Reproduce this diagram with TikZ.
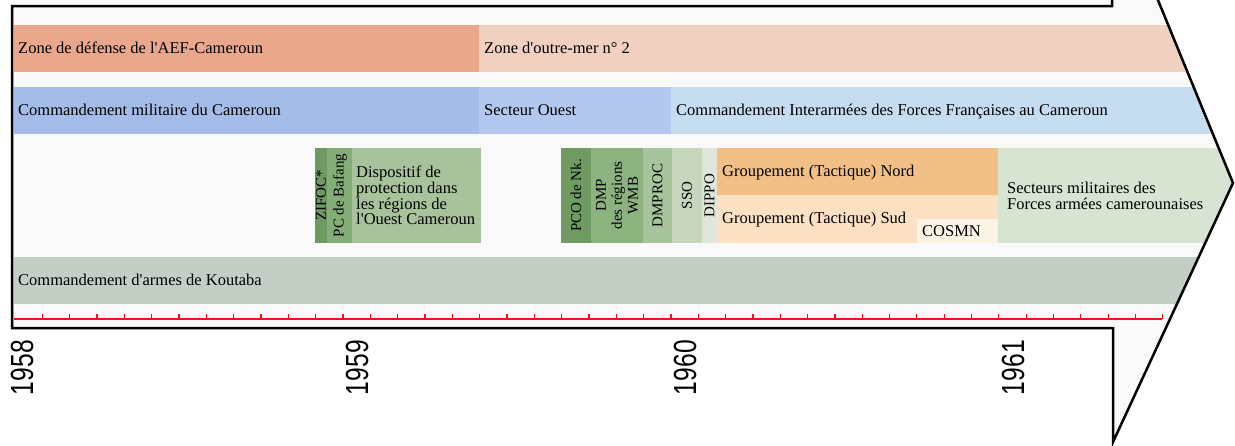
\documentclass[tikz,border=0pt]{standalone}
\usepackage{fontspec}
\setmainfont{Liberation Serif}
\newfontfamily\yearfont[FakeStretch=0.77]{Liberation Sans}
\newcommand\apos{\textquotesingle}
\definecolor{arrowfill}{HTML}{F9F9F9}
\definecolor{cZD}{HTML}{E9A78B}
\definecolor{cZO}{HTML}{F0D0C0}
\definecolor{cCM}{HTML}{A3BCE8}
\definecolor{cSO}{HTML}{B3C8EF}
\definecolor{cCI}{HTML}{C6DCF1}
\definecolor{cZI}{HTML}{6E9A62}
\definecolor{cPC}{HTML}{84AD78}
\definecolor{cDP}{HTML}{A8C39C}
\definecolor{cPCO}{HTML}{6F9A62}
\definecolor{cDMP}{HTML}{8CB27F}
\definecolor{cDMPROC}{HTML}{A8C49C}
\definecolor{cSSO}{HTML}{C5D6BC}
\definecolor{cDIPPO}{HTML}{DEE7DA}
\definecolor{cGN}{HTML}{F2BF86}
\definecolor{cGS}{HTML}{FBE1C3}
\definecolor{cCOS}{HTML}{FBF4E4}
\definecolor{cSM}{HTML}{D6E4D1}
\definecolor{cKO}{HTML}{C3CFC5}
\definecolor{tickred}{HTML}{E8141A}
\begin{document}
\begin{tikzpicture}[x=1pt,y=-1pt,
  lbl/.style={font=\fontsize{16.5}{15.8}\selectfont, inner sep=0pt, text=black},
  vlbl/.style={font=\fontsize{15}{16}\selectfont, inner sep=0pt, text=black, rotate=90, align=center, anchor=center},
  year/.style={font=\yearfont\fontsize{32}{32}\selectfont, inner sep=0pt, rotate=90, anchor=east, text=black},
  tickmark/.style={draw=tickred, line width=1.2pt},
  outline/.style={draw=black, line width=2.5pt, line join=miter}]
\useasboundingbox (0,0) rectangle (1235,445);
\clip (0,0) rectangle (1235,445);
\def\arrowpath{(12,6) -- (1112,6) -- (1112,-112) -- (1233,183) -- (1113,442) -- (1113,328) -- (12,328) -- cycle}
\fill[arrowfill] \arrowpath;
\begin{scope}
\clip \arrowpath;
% row 1
\fill[cZD] (14,25) rectangle (479,72);
\fill[cZO] (479,25) rectangle (1300,72);
% row 2
\fill[cCM] (14,87) rectangle (479,134);
\fill[cSO] (479,87) rectangle (671,134);
\fill[cCI] (671,87) rectangle (1300,134);
% row 3
\fill[cZI] (315,148) rectangle (327,243);
\fill[cPC] (327,148) rectangle (352,243);
\fill[cDP] (352,148) rectangle (481,243);
\fill[cPCO] (561,148) rectangle (591,243);
\fill[cDMP] (591,148) rectangle (643,243);
\fill[cDMPROC] (643,148) rectangle (672,243);
\fill[cSSO] (672,148) rectangle (702,243);
\fill[cDIPPO] (702,148) rectangle (717,243);
\fill[cGN] (717,148) rectangle (998,195);
\fill[cGS] (717,195) rectangle (998,243);
\fill[cCOS] (917,219) rectangle (998,243);
\fill[cSM] (998,148) rectangle (1300,243);
% row 4
\fill[cKO] (14,257) rectangle (1300,304);
\end{scope}
% labels
\node[lbl, anchor=base west] (zd) at (18,53.5) {Zone de défense de l\apos AEF-Cameroun};
\node[lbl, anchor=base west] (zo) at (484,53.5) {Zone d\apos outre-mer n° 2};
\node[lbl, anchor=base west] (cm) at (18,115.5) {Commandement militaire du Cameroun};
\node[lbl, anchor=base west] (so) at (484,115.5) {Secteur Ouest};
\node[lbl, anchor=base west] (ci) at (676,115.5) {Commandement Interarmées des Forces Françaises au Cameroun};
\node[lbl, anchor=base west] (ko) at (18,285.5) {Commandement d\apos armes de Koutaba};
\node[vlbl] (zi) at (321,195.5) {ZIFOC*};
\node[vlbl] (pc) at (340,195.5) {PC de Bafang};
\node[lbl, anchor=west, align=left] (dp) at (356,195.5) {Dispositif de\\protection dans\\les régions de\\l\apos Ouest Cameroun};
\node[vlbl] (pco) at (576,195.5) {PCO de Nk.};
\node[vlbl] (dmp) at (617,195.5) {DMP\\des régions\\WMB};
\node[vlbl] (dmproc) at (657.5,195.5) {DMPROC};
\node[vlbl] (sso) at (687,195.5) {SSO};
\node[vlbl] (dippo) at (709.5,195.5) {DIPPO};
\node[lbl, anchor=base west] (gn) at (722,176.5) {Groupement (Tactique) Nord};
\node[lbl, anchor=base west] (gs) at (722,223.5) {Groupement (Tactique) Sud};
\node[lbl, anchor=base west] (cos) at (922,236.5) {COSMN};
\node[lbl, anchor=west, align=left, font=\fontsize{16.5}{16}\selectfont] (sm) at (1007,196) {Secteurs militaires des\\Forces armées camerounaises};
% timeline
\coordinate (tl0) at (14,319);
\coordinate (tl1) at (1162,319);
\draw[tickmark] (tl0) -- (tl1);
\foreach \k in {1,...,42} {
  \draw[tickmark] ({15+27.33*\k},319) -- ({15+27.33*\k},314);
}
% outline
\draw[outline] \arrowpath;
% years
\node[year] (y58) at (22,340) {1958};
\node[year] (y59) at (357,340) {1959};
\node[year] (y60) at (685,340) {1960};
\node[year] (y61) at (1013,340) {1961};
\end{tikzpicture}
\end{document}
